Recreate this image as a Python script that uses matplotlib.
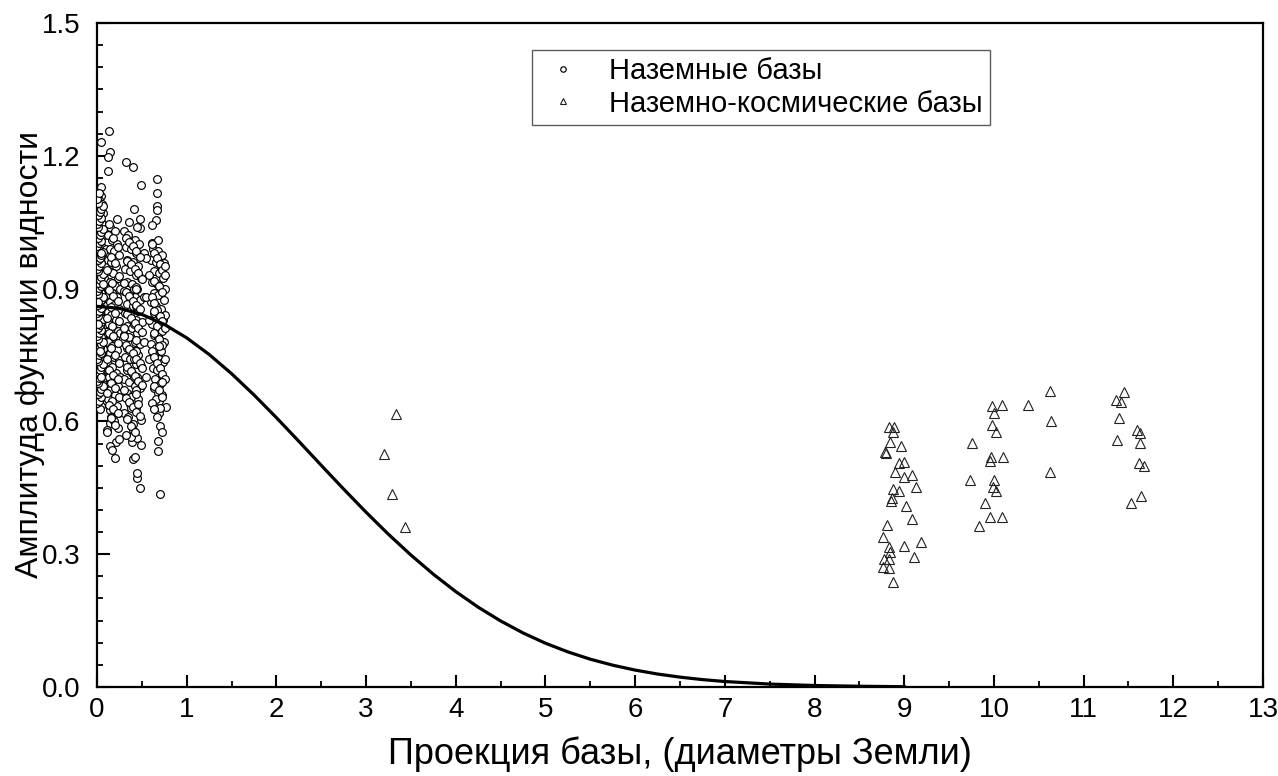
import matplotlib
matplotlib.use("Agg")
import matplotlib.pyplot as plt
from matplotlib.ticker import MultipleLocator, FormatStrFormatter

plt.rcParams['font.family'] = ['Liberation Sans', 'DejaVu Sans']

# ---- Наземные базы (ground baselines) ----
ground_x = [
    0.045, 0.137, 0.145, 0.12, 0.126, 0.045, 0.05, 0.02, 0.06, 0.03, 0.07, 0.01, 0.04, 0.06, 0.02, 0.05, 0.08, 0.01, 0.03, 0.06,
    0.02, 0.045, 0.07, 0.01, 0.035, 0.06, 0.02, 0.05, 0.08, 0.01, 0.04, 0.065, 0.02, 0.05, 0.03, 0.075, 0.01, 0.045, 0.02, 0.06,
    0.035, 0.01, 0.07, 0.025, 0.05, 0.015, 0.04, 0.065, 0.02, 0.05, 0.01, 0.035, 0.07, 0.02, 0.05, 0.01, 0.04, 0.06, 0.02, 0.045,
    0.01, 0.03, 0.065, 0.015, 0.04, 0.02, 0.055, 0.01, 0.035, 0.02, 0.05, 0.03, 0.01, 0.03, 0.015, 0.03, 0.005, 0.03, 0.005, 0.03,
    0.005, 0.025, 0.005, 0.025, 0.005, 0.02, 0.04, 0.005, 0.025, 0.045, 0.005, 0.025, 0.005, 0.01, 0.04, 0.09, 0.09, 0.09, 0.09, 0.10,
    0.10,
    0.223, 0.15, 0.2, 0.12, 0.17, 0.22, 0.14, 0.19, 0.24, 0.12, 0.16, 0.21, 0.13, 0.18, 0.23, 0.15, 0.2, 0.12, 0.17, 0.22,
    0.14, 0.19, 0.25, 0.12, 0.16, 0.21, 0.13, 0.18, 0.23, 0.15, 0.2, 0.12, 0.17, 0.22, 0.14, 0.19, 0.24, 0.12, 0.16, 0.21,
    0.13, 0.18, 0.23, 0.15, 0.2, 0.12, 0.17, 0.22, 0.14, 0.23, 0.145, 0.23, 0.208, 0.2, 0.16, 0.19, 0.15, 0.26, 0.26, 0.26,
    0.11,
    0.327, 0.405, 0.49, 0.41, 0.483, 0.483, 0.49, 0.405, 0.405, 0.386, 0.45, 0.49, 0.40, 0.42, 0.446, 0.446, 0.483, 0.3,
    0.3, 0.35, 0.42, 0.47, 0.32, 0.38, 0.44, 0.5, 0.34, 0.4, 0.46, 0.31, 0.37, 0.43, 0.49, 0.33, 0.39, 0.45, 0.3, 0.36,
    0.42, 0.48, 0.34, 0.4, 0.46, 0.31, 0.37, 0.43, 0.5, 0.33, 0.39, 0.45, 0.3, 0.36, 0.42, 0.48, 0.34, 0.4, 0.46, 0.31,
    0.37, 0.43, 0.49, 0.33, 0.39, 0.45, 0.3, 0.36, 0.42, 0.48, 0.34, 0.4, 0.46, 0.37, 0.43, 0.35, 0.41, 0.41, 0.41, 0.41,
    0.44, 0.44, 0.44, 0.38, 0.38, 0.52, 0.52, 0.52, 0.36, 0.45, 0.38, 0.32,
    0.669, 0.669, 0.67, 0.67, 0.654, 0.61, 0.61, 0.75, 0.695, 0.77, 0.695, 0.676, 0.676, 0.706, 0.68,
    0.62, 0.68, 0.72, 0.6, 0.66, 0.71, 0.64, 0.69, 0.74, 0.61, 0.67, 0.72, 0.63, 0.68, 0.75, 0.6, 0.66, 0.71, 0.64, 0.69,
    0.74, 0.61, 0.67, 0.72, 0.63, 0.68, 0.75, 0.6, 0.66, 0.71, 0.64, 0.69, 0.74, 0.62, 0.67, 0.72, 0.65, 0.7, 0.63, 0.68,
    0.73, 0.66, 0.7, 0.76, 0.76, 0.76, 0.58, 0.58, 0.58, 0.55, 0.55, 0.55,
]
ground_y = [
    1.232, 1.256, 1.208, 1.197, 1.166, 1.13, 1.11, 1.10, 1.09, 1.08, 1.07, 1.06, 1.05, 1.045, 1.035, 1.025, 1.02, 1.01, 1.0, 0.995,
    0.985, 0.978, 0.97, 0.962, 0.955, 0.948, 0.94, 0.933, 0.925, 0.918, 0.91, 0.905, 0.897, 0.89, 0.882, 0.876, 0.87, 0.863, 0.856, 0.85,
    0.843, 0.836, 0.83, 0.823, 0.816, 0.81, 0.803, 0.797, 0.79, 0.783, 0.776, 0.77, 0.763, 0.756, 0.75, 0.743, 0.736, 0.73, 0.722, 0.715,
    0.708, 0.70, 0.693, 0.686, 0.68, 0.672, 0.665, 0.658, 0.65, 0.642, 0.635, 0.628, 0.96, 0.925, 0.89, 0.86, 0.83, 0.80, 0.77, 0.745,
    0.72, 0.69, 0.99, 1.02, 0.93, 0.97, 0.94, 0.875, 0.84, 0.79, 0.80, 0.76, 0.69, 0.66, 0.66, 0.78, 0.86, 0.95, 0.70, 0.99,
    0.82,
    1.057, 1.04, 1.03, 1.02, 1.01, 1.0, 0.99, 0.985, 0.975, 0.965, 0.96, 0.95, 0.94, 0.935, 0.925, 0.915, 0.905, 0.9, 0.89, 0.88,
    0.87, 0.862, 0.855, 0.848, 0.84, 0.83, 0.82, 0.812, 0.805, 0.795, 0.788, 0.78, 0.77, 0.762, 0.755, 0.745, 0.738, 0.73, 0.72, 0.71,
    0.70, 0.69, 0.68, 0.67, 0.66, 0.65, 0.64, 0.635, 0.625, 0.62, 0.597, 0.586, 0.553, 0.517, 0.61, 0.6, 0.545, 0.7, 0.8, 0.9,
    0.58,
    1.185, 1.175, 1.134, 1.079, 1.058, 1.036, 0.603, 0.58, 0.595, 0.554, 0.562, 0.547, 0.516, 0.52, 0.472, 0.484, 0.449, 0.62,
    1.03, 1.02, 1.01, 1.0, 0.995, 0.99, 0.98, 0.975, 0.965, 0.96, 0.95, 0.945, 0.94, 0.93, 0.925, 0.915, 0.91, 0.90, 0.895, 0.89,
    0.88, 0.875, 0.865, 0.86, 0.85, 0.845, 0.84, 0.83, 0.825, 0.815, 0.81, 0.80, 0.795, 0.79, 0.78, 0.775, 0.765, 0.76, 0.75, 0.745,
    0.74, 0.73, 0.725, 0.715, 0.71, 0.70, 0.695, 0.69, 0.68, 0.675, 0.665, 0.66, 0.65, 0.64, 0.63, 0.61, 0.70, 0.74, 0.82, 0.9,
    0.86, 0.76, 0.67, 0.655, 0.63, 0.88, 0.78, 0.98, 1.05, 1.04, 0.565, 0.57,
    1.147, 1.117, 1.087, 1.077, 1.056, 1.043, 1.003, 0.958, 0.645, 0.632, 0.618, 0.556, 0.533, 0.435, 1.01,
    0.99, 0.985, 0.975, 0.965, 0.96, 0.95, 0.94, 0.935, 0.925, 0.915, 0.91, 0.9, 0.89, 0.885, 0.875, 0.87, 0.86, 0.855, 0.845, 0.84,
    0.83, 0.82, 0.815, 0.805, 0.795, 0.79, 0.78, 0.775, 0.765, 0.76, 0.75, 0.74, 0.735, 0.72, 0.715, 0.705, 0.695, 0.685, 0.675, 0.665,
    0.66, 0.65, 0.63, 0.84, 0.74, 0.9, 0.93, 0.83, 0.74, 0.88, 0.70, 0.97,
]

# additional ground points in the dense columns
ground_x2 = [
    0.0, 0.02, 0.04, 0.01, 0.03, 0.05, 0.065, 0.015, 0.0, 0.02, 0.04, 0.01, 0.03, 0.05, 0.065, 0.015,
    0.0, 0.02, 0.04, 0.01, 0.03, 0.05, 0.065, 0.015, 0.0, 0.02, 0.04, 0.01, 0.03, 0.05, 0.065, 0.015,
    0.0, 0.02, 0.04, 0.01, 0.03, 0.05, 0.065, 0.015, 0.0, 0.02, 0.04, 0.01, 0.03, 0.05, 0.065, 0.015,
    0.0, 0.02, 0.04, 0.01, 0.03, 0.05, 0.065, 0.015, 0.0, 0.02, 0.04, 0.01, 0.03, 0.05, 0.065, 0.015,
    0.0, 0.02, 0.04, 0.01, 0.03, 0.05, 0.065, 0.015, 0.0, 0.02, 0.04, 0.01, 0.03, 0.05, 0.065, 0.015,
    0.13, 0.18, 0.23, 0.155, 0.205, 0.11, 0.245, 0.17, 0.13, 0.18, 0.23, 0.155, 0.205, 0.11, 0.245, 0.17,
    0.13, 0.18, 0.23, 0.155, 0.205, 0.11, 0.245, 0.17, 0.13, 0.18, 0.23, 0.155, 0.205, 0.11, 0.245, 0.17,
    0.13, 0.18, 0.23, 0.155, 0.205, 0.11, 0.245, 0.17,
    0.32, 0.36, 0.4, 0.44, 0.48, 0.34, 0.38, 0.42, 0.46, 0.5, 0.3, 0.43,
    0.32, 0.36, 0.4, 0.44, 0.48, 0.34, 0.38, 0.42, 0.46, 0.5, 0.3, 0.43,
    0.32, 0.36, 0.4, 0.44, 0.48, 0.34, 0.38, 0.42, 0.46, 0.5, 0.3, 0.43,
    0.32, 0.36, 0.4, 0.44, 0.48, 0.34, 0.38, 0.42, 0.46, 0.5, 0.3, 0.43,
    0.61, 0.64, 0.67, 0.7, 0.73, 0.76, 0.63, 0.69, 0.72, 0.61, 0.64, 0.67, 0.7, 0.73, 0.76, 0.63, 0.69, 0.72,
    0.61, 0.64, 0.67, 0.7, 0.73, 0.76, 0.63, 0.69, 0.72, 0.61, 0.64, 0.67, 0.7, 0.73, 0.76, 0.63, 0.69, 0.72,
]
ground_y2 = [
    0.641, 0.647, 0.654, 0.661, 0.667, 0.673, 0.679, 0.686, 0.692, 0.698, 0.705, 0.711, 0.717, 0.724, 0.730, 0.736,
    0.742, 0.749, 0.755, 0.761, 0.768, 0.774, 0.780, 0.787, 0.793, 0.799, 0.806, 0.812, 0.818, 0.825, 0.831, 0.837,
    0.844, 0.850, 0.856, 0.863, 0.869, 0.875, 0.882, 0.888, 0.894, 0.901, 0.907, 0.913, 0.920, 0.926, 0.932, 0.939,
    0.945, 0.951, 0.958, 0.964, 0.970, 0.977, 0.983, 0.989, 0.996, 1.002, 1.008, 1.015, 1.021, 1.027, 1.034, 1.040,
    1.046, 1.053, 1.059, 1.066, 1.072, 1.079, 1.086, 1.094, 1.103, 1.115, 0.98, 0.87, 0.76, 0.70, 0.91, 0.82,
    1.045, 1.015, 0.995, 0.972, 0.958, 0.943, 0.928, 0.912, 0.896, 0.883, 0.872, 0.858, 0.845, 0.834, 0.826, 0.815,
    0.80, 0.792, 0.776, 0.766, 0.751, 0.741, 0.733, 0.724, 0.715, 0.705, 0.695, 0.686, 0.676, 0.664, 0.655, 0.646,
    0.636, 0.628, 0.618, 0.607, 0.592, 0.575, 0.56, 0.535,
    1.015, 1.005, 0.997, 0.986, 0.972, 0.963, 0.955, 0.944, 0.935, 0.921, 0.912, 0.903,
    0.892, 0.884, 0.872, 0.862, 0.853, 0.842, 0.834, 0.822, 0.812, 0.803, 0.793, 0.784,
    0.772, 0.763, 0.754, 0.742, 0.733, 0.722, 0.713, 0.703, 0.692, 0.683, 0.672, 0.662,
    0.652, 0.643, 0.633, 0.622, 0.612, 0.605, 0.59, 0.575, 0.64, 0.72, 0.81, 0.9,
    1.0, 0.98, 0.968, 0.955, 0.943, 0.93, 0.918, 0.905, 0.893, 0.88, 0.868, 0.852, 0.838, 0.826, 0.811, 0.8, 0.787, 0.772,
    0.758, 0.746, 0.732, 0.72, 0.708, 0.695, 0.681, 0.67, 0.655, 0.642, 0.628, 0.61, 0.59, 0.575, 0.95, 0.85, 0.77, 0.69,
]

# ---- Наземно-космические базы (ground-space baselines) ----
space_x = [
    3.33, 3.2, 3.29, 3.43,
    8.83, 8.885, 8.88, 8.84, 8.96, 8.79, 8.80, 8.94, 9.0, 8.9, 9.0, 9.085, 9.13, 8.87, 8.94, 8.86, 8.85, 9.02,
    9.09, 8.81, 8.76, 9.0, 9.19, 8.83, 8.84, 9.11, 8.77, 8.83, 8.76, 8.83, 8.88,
    9.98, 10.09, 10.38, 10.0, 9.98, 10.02, 9.75, 9.97, 9.96, 10.1, 9.73, 10.0, 9.99, 10.02, 9.9, 9.96, 10.09, 9.83,
    10.62, 10.64, 10.62,
    11.45, 11.36, 11.42, 11.39, 11.59, 11.63, 11.37, 11.63, 11.62, 11.67, 11.64, 11.53,
]
space_y = [
    0.617, 0.526, 0.436, 0.362,
    0.588, 0.588, 0.577, 0.553, 0.544, 0.532, 0.528, 0.507, 0.509, 0.486, 0.474, 0.48, 0.451, 0.447, 0.443, 0.428, 0.421, 0.409,
    0.379, 0.366, 0.338, 0.318, 0.328, 0.316, 0.306, 0.294, 0.289, 0.289, 0.27, 0.268, 0.237,
    0.635, 0.637, 0.637, 0.618, 0.592, 0.577, 0.551, 0.519, 0.511, 0.52, 0.468, 0.468, 0.451, 0.443, 0.416, 0.385, 0.385, 0.364,
    0.669, 0.6, 0.486,
    0.667, 0.648, 0.644, 0.608, 0.58, 0.574, 0.559, 0.552, 0.507, 0.499, 0.431, 0.415,
]

# ---- model curve ----
curve_x = [0.0, 0.25, 0.5, 0.75, 1.0, 1.25, 1.5, 1.75, 2.0, 2.25, 2.5, 2.75, 3.0, 3.25, 3.5, 3.75, 4.0,
           4.25, 4.5, 4.75, 5.0, 5.25, 5.5, 5.75, 6.0, 6.25, 6.5, 6.75, 7.0, 7.5, 8.0, 8.5, 9.0]
curve_y = [0.860, 0.8554, 0.8416, 0.8192, 0.7887, 0.7513, 0.7079, 0.6599, 0.6085, 0.5551, 0.5008, 0.4471,
           0.3948, 0.3449, 0.2981, 0.2548, 0.2155, 0.1803, 0.1492, 0.1221, 0.0989, 0.0793, 0.0628, 0.0493,
           0.0382, 0.0293, 0.0223, 0.0167, 0.0124, 0.0066, 0.0034, 0.0017, 0.0007]

x_ticks = list(range(0, 14))
y_ticks = [0.0, 0.3, 0.6, 0.9, 1.2, 1.5]

fig = plt.figure(figsize=(12.78, 7.76), dpi=100)
ax = fig.add_axes([97/1278, 89/776, (1263-97)/1278, (687-23)/776])

ax.plot(ground_x + ground_x2, ground_y + ground_y2, linestyle='none', marker='o', markersize=5.6,
        markerfacecolor='white', markeredgecolor='#000000', markeredgewidth=0.85,
        label='Наземные базы', zorder=3)
ax.plot(space_x, space_y, linestyle='none', marker='^', markersize=7.0,
        markerfacecolor='none', markeredgecolor='#222222', markeredgewidth=0.8,
        label='Наземно-космические базы', zorder=3)
ax.plot(curve_x, curve_y, color='black', linewidth=2.3, zorder=4)

ax.set_xlim(0, 13)
ax.set_ylim(0, 1.5)
ax.set_xticks(x_ticks)
ax.set_yticks(y_ticks)
ax.xaxis.set_minor_locator(MultipleLocator(0.5))
ax.yaxis.set_minor_locator(MultipleLocator(0.05))
ax.yaxis.set_major_formatter(FormatStrFormatter('%.1f'))

ax.tick_params(which='major', direction='in', length=9, width=1.5, labelsize=20,
               top=False, right=False)
ax.tick_params(axis='x', which='major', pad=7)
ax.tick_params(axis='y', which='major', pad=12)
ax.tick_params(which='minor', direction='in', length=4.5, width=1.3, top=False, right=False)
for s in ax.spines.values():
    s.set_linewidth(1.6)

ax.set_xlabel('Проекция базы, (диаметры Земли)', fontsize=26, labelpad=10)
ax.set_ylabel('Амплитуда функции видности', fontsize=23)
ax.yaxis.set_label_coords(-0.045, 0.5)

leg = ax.legend(loc='upper left', bbox_to_anchor=((532-97)/1166, (687-50)/664),
                fontsize=21, frameon=True, fancybox=False, edgecolor='#333333',
                markerscale=0.7, handletextpad=0.8, borderpad=0.25, labelspacing=0.15,
                handlelength=1.6, borderaxespad=0)
leg.get_frame().set_linewidth(1.0)

fig.savefig('out.png', dpi=100)
